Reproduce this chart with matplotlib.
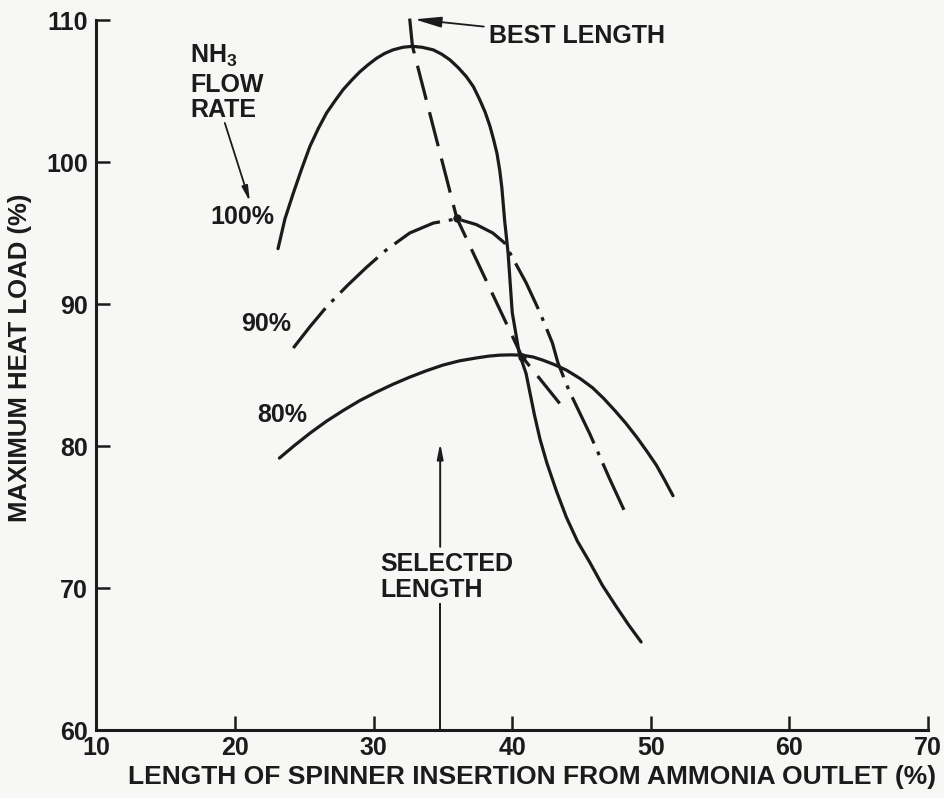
import matplotlib
matplotlib.use("Agg")
import matplotlib.pyplot as plt

plt.rcParams['font.family'] = ['Liberation Sans', 'DejaVu Sans']
plt.rcParams['font.weight'] = 'bold'
plt.rcParams['mathtext.fontset'] = 'custom'
plt.rcParams['mathtext.rm'] = 'Liberation Sans:bold'
plt.rcParams['mathtext.it'] = 'Liberation Sans:bold'

# values (x = insertion length %, y = max heat load %)
x_100 = [23.1, 23.6, 24.2, 24.8, 25.4, 26.0, 26.6, 27.2, 27.8, 28.4, 29.0, 29.6,
         30.2, 30.8, 31.4, 32.1, 32.8, 33.5, 34.3, 34.9, 35.5, 36.1, 36.7, 37.2,
         37.65, 38.05, 38.4, 38.65, 38.9, 39.1, 39.25, 39.45, 39.7, 40.0, 40.5,
         41.0, 41.6, 42.0, 42.5, 43.2, 43.9, 44.7, 45.6, 46.5, 47.5, 48.4, 49.3]
y_100 = [93.9, 96.0, 97.8, 99.5, 101.1, 102.35, 103.45, 104.3, 105.1, 105.75,
         106.35, 106.85, 107.3, 107.65, 107.9, 108.08, 108.15, 108.08, 107.9,
         107.6, 107.2, 106.65, 106.0, 105.3, 104.4, 103.5, 102.5, 101.6, 100.6,
         99.4, 98.2, 95.9, 93.6, 89.4, 86.55, 85.1, 82.2, 80.5, 78.8, 76.8, 75.0,
         73.3, 71.8, 70.2, 68.7, 67.4, 66.2]

x_90 = [24.2, 25.4, 26.6, 28.1, 29.5, 30.9, 32.6, 34.3, 36.0, 37.4, 38.6, 39.45,
        40.0, 41.0, 42.0, 42.9, 43.3, 44.1, 45.6, 47.0, 48.3]
y_90 = [86.9, 88.4, 89.8, 91.3, 92.6, 93.8, 95.0, 95.7, 96.0, 95.6, 95.0, 94.3,
        93.3, 91.5, 89.4, 87.25, 85.85, 83.9, 80.85, 77.75, 75.0]

x_80 = [23.2, 24.3, 25.4, 26.6, 27.8, 29.0, 30.2, 31.4, 32.6, 33.8, 35.0, 36.2,
        37.4, 38.3, 39.1, 39.9, 40.7, 41.5, 42.2, 43.0, 43.9, 44.9, 45.8, 46.6,
        47.4, 48.2, 49.0, 49.7, 50.4, 51.0, 51.6]
y_80 = [79.15, 80.05, 80.9, 81.75, 82.5, 83.2, 83.8, 84.35, 84.85, 85.3, 85.7,
        86.0, 86.2, 86.33, 86.4, 86.42, 86.4, 86.27, 86.05, 85.75, 85.35, 84.75,
        84.1, 83.35, 82.5, 81.6, 80.6, 79.65, 78.65, 77.6, 76.5]

# locus of best length through the curve peaks
x_best = [32.6, 32.8, 36.0, 40.7, 44.0]
y_best = [110.1, 108.15, 96.05, 86.3, 82.3]
x_peaks = [36.0, 40.7]
y_peaks = [96.05, 86.3]

selected = 34.8
xticks = [10, 20, 30, 40, 50, 60, 70]
yticks = [60, 70, 80, 90, 100, 110]

ink = '#1c1a1a'
bg = '#f7f7f5'

fig = plt.figure(figsize=(9.45, 7.98), dpi=100, facecolor=bg)
ax = fig.add_axes([0.1021, 0.0852, 0.8799, 0.8897])
ax.set_facecolor(bg)

curve_kw = dict(color=ink, lw=2.3, solid_capstyle='round', solid_joinstyle='round')
ax.plot(x_100, y_100, **curve_kw)
ax.plot(x_80, y_80, **curve_kw)
ax.plot(x_90, y_90, color=ink, lw=2.3, linestyle=(0, (16, 2.8, 1.2, 2.8)),
        dash_capstyle='butt', dash_joinstyle='round')
ax.plot(x_best, y_best, color=ink, lw=2.3, linestyle=(0, (11, 4)),
        dash_capstyle='butt', clip_on=False)
ax.plot(x_peaks, y_peaks, 'o', color=ink, ms=5)

arrow = '-|>,head_length=0.9,head_width=0.18'

# selected length arrow, broken around its label
ax.annotate('', xy=(selected, 80.2), xytext=(selected, 72.9),
            arrowprops=dict(arrowstyle=arrow, color=ink, lw=1.4,
                            shrinkA=0, shrinkB=0))
ax.plot([selected, selected], [60, 68.9], color=ink, lw=1.4)
ax.text(30.5, 71.7, 'SELECTED', fontsize=18, fontweight='bold', color=ink,
        ha='left', va='center')
ax.text(30.5, 69.85, 'LENGTH', fontsize=18, fontweight='bold', color=ink,
        ha='left', va='center')

# best length label
ax.annotate('BEST LENGTH', xy=(32.95, 110.05), xytext=(38.35, 108.85),
            fontsize=18, fontweight='bold', color=ink, ha='left', va='center',
            annotation_clip=False,
            arrowprops=dict(arrowstyle=arrow, color=ink, lw=1.3,
                            shrinkA=2, shrinkB=0))

# flow rate labels
ax.text(16.74, 107.5, r'NH$_3$', fontsize=18, fontweight='bold', color=ink,
        ha='left', va='center')
ax.text(16.74, 105.42, 'FLOW', fontsize=18, fontweight='bold', color=ink,
        ha='left', va='center')
ax.text(16.74, 103.63, 'RATE', fontsize=18, fontweight='bold', color=ink,
        ha='left', va='center')
ax.annotate('', xy=(21.07, 97.2), xytext=(19.26, 102.75),
            arrowprops=dict(arrowstyle=arrow, color=ink, lw=1.3,
                            shrinkA=0, shrinkB=0))
ax.text(20.5, 96.13, '100%', fontsize=18, fontweight='bold', color=ink,
        ha='center', va='center')
ax.text(22.23, 88.6, '90%', fontsize=18, fontweight='bold', color=ink,
        ha='center', va='center')
ax.text(23.38, 82.18, '80%', fontsize=18, fontweight='bold', color=ink,
        ha='center', va='center')

ax.set_xlim(10, 70)
ax.set_ylim(60, 110)
ax.set_xticks(xticks)
ax.set_yticks(yticks)
ax.tick_params(direction='in', length=10, width=1.8, color=ink, labelsize=18,
               labelcolor=ink)
ax.tick_params(axis='x', pad=4)
ax.tick_params(axis='y', pad=6)
for lab in ax.get_xticklabels() + ax.get_yticklabels():
    lab.set_fontweight('bold')

for s in ['top', 'right']:
    ax.spines[s].set_visible(False)
for s in ['left', 'bottom']:
    ax.spines[s].set_linewidth(2.2)
    ax.spines[s].set_color(ink)

ax.set_xlabel('LENGTH OF SPINNER INSERTION FROM AMMONIA OUTLET (%)',
              fontsize=19, fontweight='bold', color=ink)
ax.xaxis.set_label_coords(0.524, -0.049)
ax.set_ylabel('MAXIMUM HEAT LOAD (%)', fontsize=18.5, fontweight='bold', color=ink)
ax.yaxis.set_label_coords(-0.078, 0.524)

fig.savefig('out.png', dpi=100, facecolor=bg)
